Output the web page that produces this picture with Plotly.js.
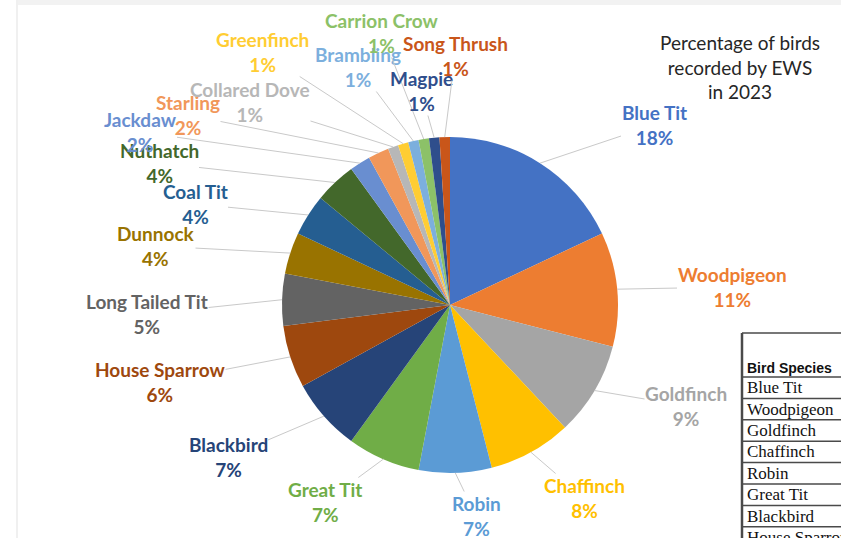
<!DOCTYPE html>
<html><head><meta charset="utf-8">
<script src="https://cdn.plot.ly/plotly-3.0.1.min.js"></script>
<style>html,body{margin:0;padding:0;background:#fff}#chart{width:841px;height:538px}</style>
</head><body><div id="chart"></div>
<script>
// ---- data ----
const species = ["Blue Tit","Woodpigeon","Goldfinch","Chaffinch","Robin","Great Tit","Blackbird",
  "House Sparrow","Long Tailed Tit","Dunnock","Coal Tit","Nuthatch","Jackdaw","Starling",
  "Collared Dove","Greenfinch","Brambling","Carrion Crow","Magpie","Song Thrush"];
const percent = [18,11,9,8,7,7,7,6,5,4,4,4,2,2,1,1,1,1,1,1];
const chartTitle = "Percentage of birds<br>recorded by EWS<br>in 2023";
const tableHeader = "Bird Species";
const tableSpecies = ["Blue Tit","Woodpigeon","Goldfinch","Chaffinch","Robin","Great Tit","Blackbird","House Sparrow"];

// ---- styles / layout ----
const sliceColors = ["#4472C4","#ED7D31","#A5A5A5","#FFC000","#5B9BD5","#70AD47","#264478",
  "#9E480E","#636363","#997300","#255E91","#43682B","#698ED0","#F1975A",
  "#B7B7B7","#FFCD33","#7CAFDD","#8CC168","#2F4E8C","#C9561A"];
const labelPos = [[654,125],[732,287],[686,406],[584,498],[476,516],[325,502],[228,457],
  [160,382],[147,314],[156,246],[195,204],[159,163],[140,132],[188,115],
  [250,102],[262,52],[358,67],[382,33],[421,91],[455,56]];
const W = 841, H = 538, CX = 450, CY = 305, R = 168;

const total = percent.reduce((a,b)=>a+b,0);
const annotations = [];
let cum = 0;
percent.forEach((v,i)=>{
  const mid = (cum + v/2)/total*2*Math.PI;
  cum += v;
  const hx = CX + R*Math.sin(mid), hy = CY - R*Math.cos(mid);
  annotations.push({
    xref:'paper', yref:'paper', x: hx/W, y: 1 - hy/H,
    ax: labelPos[i][0]-hx, ay: labelPos[i][1]-hy, axref:'pixel', ayref:'pixel',
    showarrow:true, arrowhead:0, arrowwidth:1, arrowcolor:'#C9C9C9', standoff:0,
    text: '<b>' + species[i] + '<br>' + v + '%</b>',
    font:{family:'Lato, sans-serif', size:19, color:sliceColors[i]},
    align:'center', borderpad:0
  });
});
annotations.push({
  xref:'paper', yref:'paper', x:740/W, y:1-67/H, xanchor:'center', yanchor:'middle',
  showarrow:false, text: chartTitle, align:'center',
  font:{family:'Lato, sans-serif', size:19, color:'#262626'}
});

// table (image-like inset at bottom right)
const TX = 742, TTOP = 333, HEAD = 44, ROWH = 21.4;
const shapes = [
  {type:'rect', xref:'paper', yref:'paper', x0:17/W, x1:1, y0:1-5/H, y1:1, fillcolor:'#F2F2F2', line:{width:0}, layer:'below'},
  {type:'line', xref:'paper', yref:'paper', x0:17/W, x1:17/W, y0:0, y1:1, line:{color:'#F0F0F0', width:2}, layer:'below'},
  {type:'line', xref:'paper', yref:'paper', x0:TX/W, x1:TX/W, y0:0, y1:1-TTOP/H, line:{color:'#4A4A4A', width:2.5}},
  {type:'line', xref:'paper', yref:'paper', x0:TX/W, x1:1, y0:1-TTOP/H, y1:1-TTOP/H, line:{color:'#4A4A4A', width:1.5}}
];
for (let k=0; k<=tableSpecies.length; k++){
  const yy = TTOP + HEAD + k*ROWH;
  if (yy < H) shapes.push({type:'line', xref:'paper', yref:'paper', x0:TX/W, x1:1, y0:1-yy/H, y1:1-yy/H, line:{color:'#4A4A4A', width:1.5}});
}
annotations.push({
  xref:'paper', yref:'paper', x:(TX+3)/W, y:1-(TTOP+HEAD-9)/H, xanchor:'left', yanchor:'middle',
  showarrow:false, text:'<b>'+tableHeader+'</b>',
  font:{family:'"Liberation Sans Narrow", "Liberation Sans", sans-serif', size:14, color:'#111'}
});
tableSpecies.forEach((s,k)=>{
  annotations.push({
    xref:'paper', yref:'paper', x:(TX+3)/W, y:1-(TTOP+HEAD+ROWH*(k+0.5))/H, xanchor:'left', yanchor:'middle',
    showarrow:false, text:s,
    font:{family:'"Liberation Serif", "Times New Roman", serif', size:17, color:'#111'}
  });
});

const trace = {
  type:'pie', values: percent, labels: species, sort:false, direction:'clockwise', rotation:0,
  textinfo:'none', hoverinfo:'label+percent',
  marker:{colors:sliceColors, line:{color:'#ffffff', width:0}},
  domain:{x:[(CX-R)/W,(CX+R)/W], y:[(H-CY-R)/H,(H-CY+R)/H]}
};
const layout = {
  width:W, height:H, margin:{l:0,r:0,t:0,b:0,pad:0}, showlegend:false,
  paper_bgcolor:'#ffffff', annotations, shapes
};
Plotly.newPlot('chart',[trace],layout,{displayModeBar:false, staticPlot:true});
</script></body></html>
